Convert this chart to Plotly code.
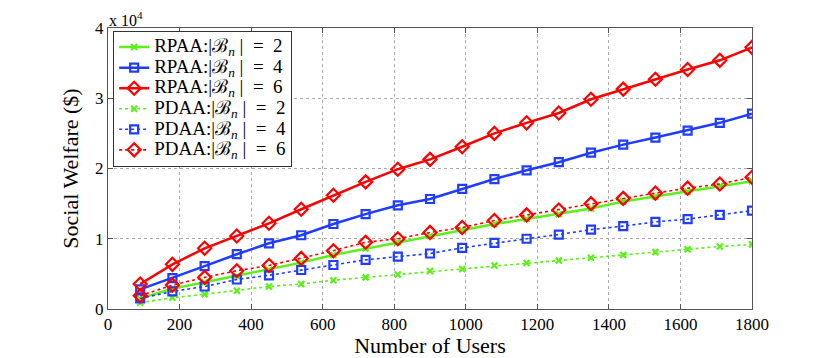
import plotly.graph_objects as go

users = [90, 180, 270, 360, 450, 540, 630, 720, 810, 900, 990, 1080, 1170, 1260, 1350, 1440, 1530, 1620, 1710, 1800]

rpaa_2 = [0.15, 0.29, 0.38, 0.47, 0.56, 0.66, 0.77, 0.86, 0.95, 1.04, 1.12, 1.21, 1.28, 1.35, 1.43, 1.53, 1.60, 1.67, 1.75, 1.82]
rpaa_4 = [0.28, 0.44, 0.61, 0.78, 0.935, 1.05, 1.21, 1.35, 1.476, 1.566, 1.71, 1.85, 1.974, 2.09, 2.225, 2.34, 2.44, 2.54, 2.65, 2.78]
rpaa_6 = [0.356, 0.636, 0.864, 1.04, 1.22, 1.42, 1.62, 1.81, 1.99, 2.13, 2.31, 2.50, 2.65, 2.79, 2.985, 3.13, 3.27, 3.41, 3.54, 3.725]
pdaa_2 = [0.09, 0.16, 0.21, 0.26, 0.32, 0.356, 0.41, 0.45, 0.49, 0.54, 0.57, 0.62, 0.655, 0.69, 0.73, 0.77, 0.81, 0.85, 0.89, 0.92]
pdaa_4 = [0.15, 0.25, 0.32, 0.42, 0.48, 0.555, 0.626, 0.70, 0.745, 0.79, 0.87, 0.94, 1.0, 1.06, 1.13, 1.18, 1.24, 1.28, 1.34, 1.40]
pdaa_6 = [0.19, 0.34, 0.45, 0.545, 0.62, 0.72, 0.83, 0.95, 1.0, 1.09, 1.16, 1.26, 1.34, 1.41, 1.50, 1.575, 1.65, 1.72, 1.78, 1.875]

x_ticks = [0, 200, 400, 600, 800, 1000, 1200, 1400, 1600, 1800]
y_ticks = [0, 1, 2, 3, 4]

GREEN = "#5cf01a"
BLUE = "#1f3cff"
RED = "#ff0000"

series = [
    ("RPAA", "2", rpaa_2, GREEN, "solid", "x-thin-open", 6, 2.5),
    ("RPAA", "4", rpaa_4, BLUE, "solid", "square-open", 8, 2.5),
    ("RPAA", "6", rpaa_6, RED, "solid", "diamond-open", 10, 2.5),
    ("PDAA", "2", pdaa_2, GREEN, "dot", "x-thin-open", 6, 1.6),
    ("PDAA", "4", pdaa_4, BLUE, "dot", "square-open", 8, 1.6),
    ("PDAA", "6", pdaa_6, RED, "dot", "diamond-open", 10, 1.6),
]

NB = "\u00a0"
fig = go.Figure()
for algo, b, vals, col, dash, sym, size, lw in series:
    fig.add_trace(go.Scatter(
        x=users, y=vals, mode="lines+markers",
        name=(f"<span style='font-size:19px'>{algo}:|ℬ<sub><i>n</i></sub>{NB}|"
              f"{NB}{NB}={NB}{NB}{b}</span>"),
        line=dict(color=col, width=lw, dash=dash),
        marker=dict(symbol=sym, size=size, color=col, line=dict(color=col, width=2.2)),
    ))

axis_common = dict(
    showline=True, linecolor="#555555", linewidth=1, mirror="ticks",
    ticks="inside", ticklen=5, tickcolor="#555555",
    showgrid=True, gridcolor="#aaaaaa", griddash="dot", gridwidth=1,
    zeroline=False, automargin=False,
    tickfont=dict(family="Liberation Serif", size=17, color="black"),
)

fig.update_xaxes(range=[0, 1800], tickvals=x_ticks, ticktext=[str(v) for v in x_ticks],
                 title=dict(text="Number of Users", font=dict(family="Liberation Serif", size=22, color="black"), standoff=2),
                 **axis_common)
fig.update_yaxes(range=[0, 4], tickvals=y_ticks, ticktext=[str(v) for v in y_ticks],
                 title=dict(text="Social Welfare ($)", font=dict(family="Liberation Serif", size=22, color="black"), standoff=10),
                 **axis_common)

fig.add_annotation(xref="paper", yref="paper", x=-0.002, y=0.99, xanchor="left", yanchor="bottom",
                   text="x 10<sup>4</sup>", showarrow=False,
                   font=dict(family="Liberation Serif", size=16, color="black"))

fig.update_layout(
    width=822, height=350,
    margin=dict(l=100, r=78, t=20, b=49),
    paper_bgcolor="white", plot_bgcolor="white",
    showlegend=True,
    legend=dict(x=0.008, y=0.99, xanchor="left", yanchor="top",
                bgcolor="white", bordercolor="#333333", borderwidth=1,
                font=dict(family="Liberation Serif", size=13.5, color="black"),
                tracegroupgap=0, itemwidth=30),
)

fig.write_html("out.html")
